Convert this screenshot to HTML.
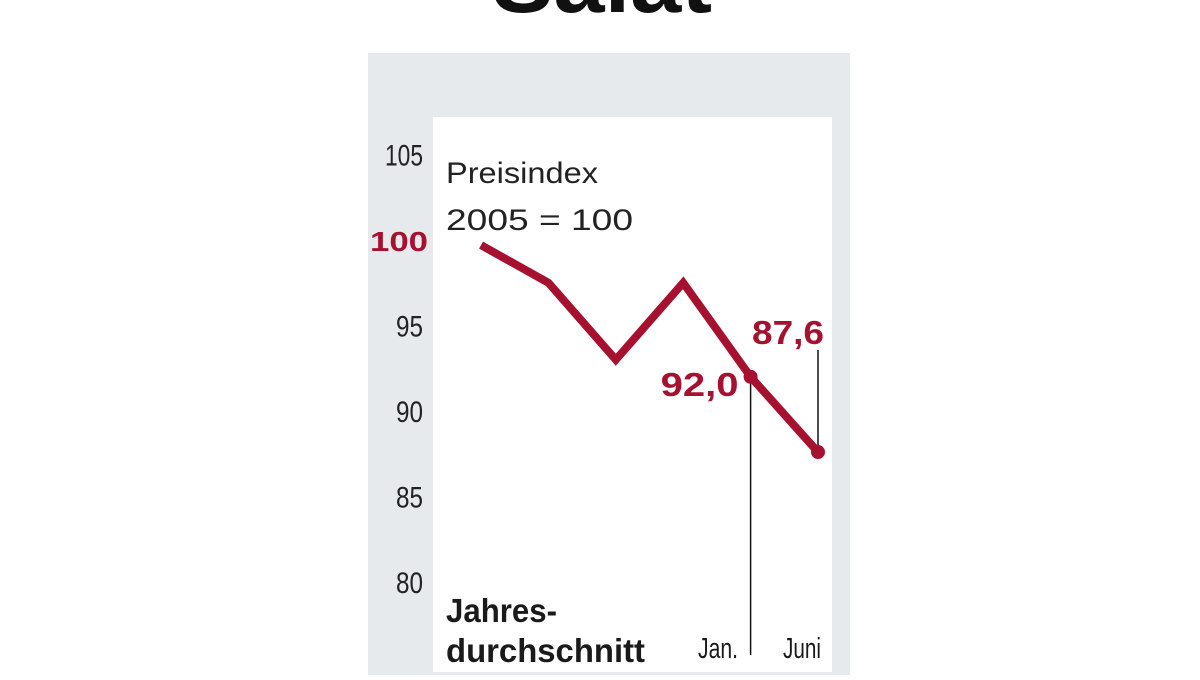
<!DOCTYPE html>
<html><head><meta charset="utf-8"><style>
body{margin:0;width:1200px;height:675px;background:#fff;overflow:hidden;font-family:"Liberation Sans",sans-serif}
</style></head><body>
<svg width="1200" height="675">
<text x="602" y="12" text-anchor="middle" font-size="88" font-weight="bold" fill="#111" textLength="220" lengthAdjust="spacingAndGlyphs">Salat</text>
<rect x="368" y="53" width="482" height="622" fill="#e7eaed"/>
<rect x="433" y="117" width="399" height="555" fill="#fff"/>
<g id="ticks"></g>
<text x="446" y="183" font-size="30" fill="#222" textLength="152" lengthAdjust="spacingAndGlyphs">Preisindex</text>
<text x="446" y="230" font-size="30" fill="#222" textLength="187" lengthAdjust="spacingAndGlyphs">2005 = 100</text>
<g id="marks"></g>
<text x="446" y="622" font-size="33" font-weight="bold" fill="#1a1a1a" textLength="111" lengthAdjust="spacingAndGlyphs">Jahres-</text>
<text x="446" y="662" font-size="33" font-weight="bold" fill="#1a1a1a" textLength="199" lengthAdjust="spacingAndGlyphs">durchschnitt</text>
<text x="698" y="658" font-size="29" fill="#1a1a1a" textLength="40" lengthAdjust="spacingAndGlyphs">Jan.</text>
<text x="783" y="658" font-size="29" fill="#1a1a1a" textLength="38" lengthAdjust="spacingAndGlyphs">Juni</text>
</svg>
<script>
const ticks=[80,85,90,95,100,105];
const values=[99.7,97.5,93.0,97.5,92.0,87.6];
const xs_idx=[0,1,2,3,4,5];
const labels=["","","","","92,0","87,6"];
const y=v=>240+(100-v)*17.1;
const x=i=>481+i*67.4;
const NS="http://www.w3.org/2000/svg";
const tg=document.getElementById('ticks'),mg=document.getElementById('marks');
function mk(tag,a,p){const e=document.createElementNS(NS,tag);for(const k in a)e.setAttribute(k,a[k]);p.appendChild(e);return e;}
ticks.forEach(t=>{const hl=t===100;const s=String(t);const w=hl?58:(s.length===3?38:27);
const e=mk('text',{x:hl?428:423,y:y(t)+11,'text-anchor':'end','font-size':hl?28:30,'font-weight':hl?'bold':'normal',fill:hl?'#a5112e':'#222',textLength:w,lengthAdjust:'spacingAndGlyphs'},tg);e.textContent=t;

});
let g1=mk('line',{x1:x(4),x2:x(4),y1:y(values[4]),y2:655,stroke:'#111','stroke-width':1.5},mg);


let g2=mk('line',{x1:x(5),x2:x(5),y1:350,y2:y(values[5]),stroke:'#111','stroke-width':1.5},mg);


const pl=mk('polyline',{points:values.map((v,i)=>x(xs_idx[i])+','+y(v)).join(' '),fill:'none',stroke:'#a5112e','stroke-width':8,'stroke-linejoin':'miter'},mg);


[4,5].forEach(i=>{const c=mk('circle',{cx:x(i),cy:y(values[i]),r:7,fill:'#a5112e'},mg);

});
const l1=mk('text',{x:x(4)-12,y:y(values[4])+19,'text-anchor':'end','font-size':33,'font-weight':'bold',fill:'#a5112e',textLength:78,lengthAdjust:'spacingAndGlyphs'},mg);l1.textContent=labels[4];


const l2=mk('text',{x:x(5)+6,y:344,'text-anchor':'end','font-size':33,'font-weight':'bold',fill:'#a5112e',textLength:72,lengthAdjust:'spacingAndGlyphs'},mg);l2.textContent=labels[5];


</script>
</body></html>
